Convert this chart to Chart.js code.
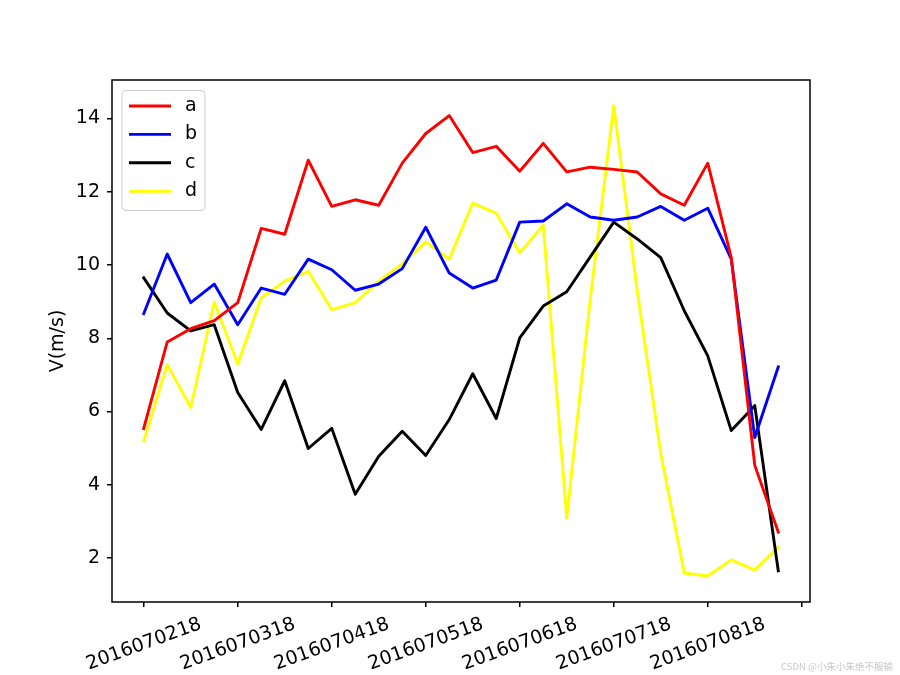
<!DOCTYPE html>
<html lang="en">
<head>
    <meta charset="UTF-8">
    <title>V(m/s)</title>
    <script src="https://cdn.jsdelivr.net/npm/chart.js"></script>
    <style>
        body { margin: 0; background: #fff; }
    </style>
</head>
<body>
<canvas id="speedChart" width="900" height="675"></canvas>

<script>
    // tick labels every 4th point
    var tickLabels = ["2016070218", "2016070318", "2016070418", "2016070518", "2016070618", "2016070718", "2016070818"];
    var names = ["a", "b", "c", "d"];
    var colors = ["#ff0000", "#0000ff", "#000000", "#ffff00"];

    var a = [5.54, 7.90, 8.26, 8.48, 8.97, 11.00, 10.84, 12.86, 11.60, 11.78, 11.63, 12.78, 13.59, 14.08,
             13.07, 13.24, 12.56, 13.32, 12.54, 12.67, 12.61, 12.54, 11.94, 11.63, 12.78, 10.20, 4.53, 2.71];
    var b = [8.67, 10.30, 8.97, 9.48, 8.37, 9.37, 9.20, 10.16, 9.87, 9.31, 9.48, 9.90, 11.03, 9.78,
             9.37, 9.59, 11.17, 11.20, 11.67, 11.31, 11.22, 11.31, 11.60, 11.22, 11.55, 10.16, 5.29, 7.22];
    var c = [9.65, 8.69, 8.20, 8.37, 6.52, 5.51, 6.84, 4.99, 5.54, 3.74, 4.78, 5.46, 4.80, 5.78,
             7.03, 5.81, 8.01, 8.88, 9.27, 10.22, 11.17, 10.71, 10.20, 8.75, 7.52, 5.48, 6.16, 1.65];
    var d = [5.20, 7.28, 6.11, 8.99, 7.30, 9.10, 9.56, 9.83, 8.78, 8.97, 9.56, 10.03, 10.63, 10.16,
             11.69, 11.41, 10.33, 11.09, 3.09, 9.07, 14.35, 9.29, 4.85, 1.59, 1.51, 1.95, 1.67, 2.30];
    var series = [a, b, c, d];

    var font = { family: "DejaVu Sans", size: 19 };

    var datasets = series.map(function (vals, i) {
        return {
            label: names[i],
            data: vals.map(function (v, k) { return { x: k, y: v }; }),
            borderColor: colors[i],
            backgroundColor: colors[i],
            borderWidth: 2.9,
            borderJoinStyle: 'round',
            borderCapStyle: 'square',
            pointRadius: 0,
            tension: 0,
            fill: false
        };
    });

    // axes frame (spines)
    var framePlugin = {
        id: 'frame',
        afterDatasetsDraw: function (chart) {
            var ca = chart.chartArea, ctx = chart.ctx;
            ctx.save();
            ctx.strokeStyle = '#000';
            ctx.lineWidth = 1.5;
            ctx.strokeRect(ca.left, ca.top, ca.right - ca.left, ca.bottom - ca.top);
            ctx.restore();
        }
    };

    // matplotlib-like legend box in the upper left + watermark
    var legendPlugin = {
        id: 'mplLegend',
        afterDraw: function (chart) {
            var ca = chart.chartArea, ctx = chart.ctx;
            var x0 = ca.left + 10, y0 = ca.top + 10.5, w = 83, h = 120, r = 4;
            ctx.save();
            ctx.beginPath();
            ctx.moveTo(x0 + r, y0);
            ctx.arcTo(x0 + w, y0, x0 + w, y0 + h, r);
            ctx.arcTo(x0 + w, y0 + h, x0, y0 + h, r);
            ctx.arcTo(x0, y0 + h, x0, y0, r);
            ctx.arcTo(x0, y0, x0 + w, y0, r);
            ctx.closePath();
            ctx.fillStyle = 'rgba(255,255,255,0.8)';
            ctx.fill();
            ctx.strokeStyle = '#cccccc';
            ctx.lineWidth = 1;
            ctx.stroke();

            ctx.font = font.size + 'px ' + font.family;
            ctx.textBaseline = 'middle';
            ctx.textAlign = 'left';
            chart.data.datasets.forEach(function (ds, i) {
                var yy = y0 + 15.5 + i * 28.4;
                ctx.beginPath();
                ctx.moveTo(x0 + 7, yy);
                ctx.lineTo(x0 + 49, yy);
                ctx.strokeStyle = ds.borderColor;
                ctx.lineWidth = 2.9;
                ctx.stroke();
                ctx.fillStyle = '#000';
                ctx.fillText(ds.label, x0 + 63, yy);
            });

            ctx.font = '9.5px "Noto Sans CJK SC"';
            ctx.fillStyle = '#c8c8c8';
            ctx.textAlign = 'right';
            ctx.fillText('CSDN @小朱小朱绝不服输', 893, 666);
            ctx.restore();
        }
    };

    var ctx = document.getElementById('speedChart').getContext('2d');
    var speedChart = new Chart(ctx, {
        type: 'line',
        data: { datasets: datasets },
        plugins: [framePlugin, legendPlugin],
        options: {
            responsive: false,
            animation: false,
            devicePixelRatio: 1,
            layout: { padding: { left: 0, top: 80, right: 90, bottom: 0 } },
            plugins: {
                legend: { display: false },
                tooltip: { enabled: false }
            },
            scales: {
                x: {
                    type: 'linear',
                    min: -1.35,
                    max: 28.35,
                    afterBuildTicks: function (scale) {
                        var t = [];
                        for (var v = 0; v <= 28; v += 4) t.push({ value: v });
                        scale.ticks = t;
                    },
                    afterFit: function (scale) { scale.height = 73; },
                    grid: { drawOnChartArea: false, drawTicks: true, tickLength: 5, color: '#000', lineWidth: 1.5 },
                    border: { display: false },
                    ticks: {
                        autoSkip: false,
                        minRotation: 20,
                        maxRotation: 20,
                        labelOffset: 57,
                        padding: 6,
                        color: '#000',
                        font: font,
                        callback: function (value) {
                            var k = value / 4;
                            return tickLabels[k] !== undefined ? tickLabels[k] : '';
                        }
                    }
                },
                y: {
                    min: 0.8,
                    max: 15.05,
                    afterBuildTicks: function (scale) {
                        var t = [];
                        for (var v = 2; v <= 14; v += 2) t.push({ value: v });
                        scale.ticks = t;
                    },
                    afterFit: function (scale) { scale.width = 112; },
                    grid: { drawOnChartArea: false, drawTicks: true, tickLength: 5, color: '#000', lineWidth: 1.5 },
                    border: { display: false },
                    ticks: { color: '#000', font: font, padding: 7 },
                    title: {
                        display: true,
                        text: 'V(m/s)',
                        color: '#000',
                        font: font,
                        padding: { top: 47, bottom: 0 }
                    }
                }
            }
        }
    });
</script>
</body>
</html>
